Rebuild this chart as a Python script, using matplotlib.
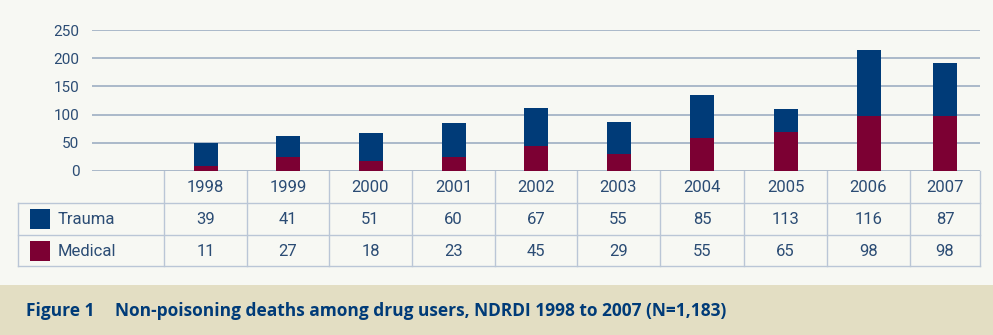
import matplotlib
matplotlib.use("Agg")
import matplotlib.pyplot as plt
from matplotlib.patches import Rectangle

# data: table values
years = ["1998", "1999", "2000", "2001", "2002", "2003", "2004", "2005", "2006", "2007"]
trauma = [39, 41, 51, 60, 67, 55, 85, 113, 116, 87]
medical = [11, 27, 18, 23, 45, 29, 55, 65, 98, 98]
# bar segments as drawn in the original chart (they don't all agree with the table)
bar_medical = [9, 25, 18, 24, 45, 31, 59, 69, 98, 98]
bar_trauma = [41, 37, 49, 61, 67, 56, 76, 41, 117, 93]
series_names = ["Trauma", "Medical"]
yticks = [0, 50, 100, 150, 200, 250]
caption_label = "Figure 1"
caption_text = "Non-poisoning deaths among drug users, NDRDI 1998 to 2007 (N=1,183)"

# layout (pixels)
W, H = 993, 335
col_edges = [164, 247, 329, 412, 495, 577, 660, 744, 827, 910, 980]
row_edges = [171, 203, 235, 266]
grid_left, grid_right = 92, 980
y_top_px = 30  # pixel row of the 250 gridline
bar_w = 24

BG = "#F7F8F3"
BAND = "#E3DEC3"
NAVY = "#003B78"
MAROON = "#7C0033"
TEXT = "#2B4C74"
GRID = "#A5B4C6"
TLINE = "#BAC6D6"

plt.rcParams["font.family"] = ["Roboto", "DejaVu Sans"]

fig = plt.figure(figsize=(W / 100, H / 100), dpi=100, facecolor=BG)

# overlay in pixel coordinates for table and caption
ov = fig.add_axes([0, 0, 1, 1])
ov.set_xlim(0, W)
ov.set_ylim(H, 0)
ov.axis("off")
ov.set_zorder(0)

ov.add_patch(Rectangle((0, 285), W, H - 285, facecolor=BAND, edgecolor="none"))

# table grid
top, r1, r2, bottom = row_edges
for x in col_edges:
    ov.plot([x, x], [top, bottom], color=TLINE, lw=1)
ov.plot([18, 18], [r1, bottom], color=TLINE, lw=1)
for y in [r1, r2, bottom]:
    ov.plot([18, col_edges[-1]], [y, y], color=TLINE, lw=1)

centers = [(col_edges[i] + col_edges[i + 1]) / 2 for i in range(len(years))]
cell_font = dict(ha="center", va="center", fontsize=12, color=TEXT)
for i, yr in enumerate(years):
    ov.text(centers[i], (top + r1) / 2 + 1, yr, **cell_font)
    ov.text(centers[i], (r1 + r2) / 2 + 1, str(trauma[i]), **cell_font)
    ov.text(centers[i], (r2 + bottom) / 2 + 1, str(medical[i]), **cell_font)

for name, color, (ya, yb) in zip(series_names, [NAVY, MAROON], [(r1, r2), (r2, bottom)]):
    yc = (ya + yb) / 2
    ov.add_patch(Rectangle((30, yc - 10), 20, 20, facecolor=color, edgecolor="none"))
    ov.text(58, yc + 1, name, ha="left", va="center", fontsize=12, color=TEXT)

cap_font = dict(ha="left", va="baseline", fontsize=12.5, fontweight="bold",
                color=NAVY, family=["Open Sans", "DejaVu Sans"])
ov.text(26, 316.5, caption_label, **cap_font)
ov.text(115, 316.5, caption_text, **cap_font)

# bar axes
ax = fig.add_axes([grid_left / W, (H - row_edges[0]) / H,
                   (grid_right - grid_left) / W, (row_edges[0] - y_top_px) / H])
ax.set_zorder(1)
ax.patch.set_alpha(0)
ax.set_xlim(grid_left, grid_right)
ax.set_ylim(0, 250)
for s in ax.spines.values():
    s.set_visible(False)
ax.set_yticks(yticks)
ax.set_yticklabels([str(t) for t in yticks], fontsize=11, color=TEXT)
ax.tick_params(axis="y", length=0, pad=9)
ax.set_xticks([])
ax.grid(axis="y", color=GRID, lw=1.3)
ax.set_axisbelow(True)

ax.bar(centers, bar_medical, width=bar_w, color=MAROON, zorder=3)
ax.bar(centers, bar_trauma, width=bar_w, bottom=bar_medical, color=NAVY, zorder=3)

fig.savefig("out.png", dpi=100, facecolor=BG)
